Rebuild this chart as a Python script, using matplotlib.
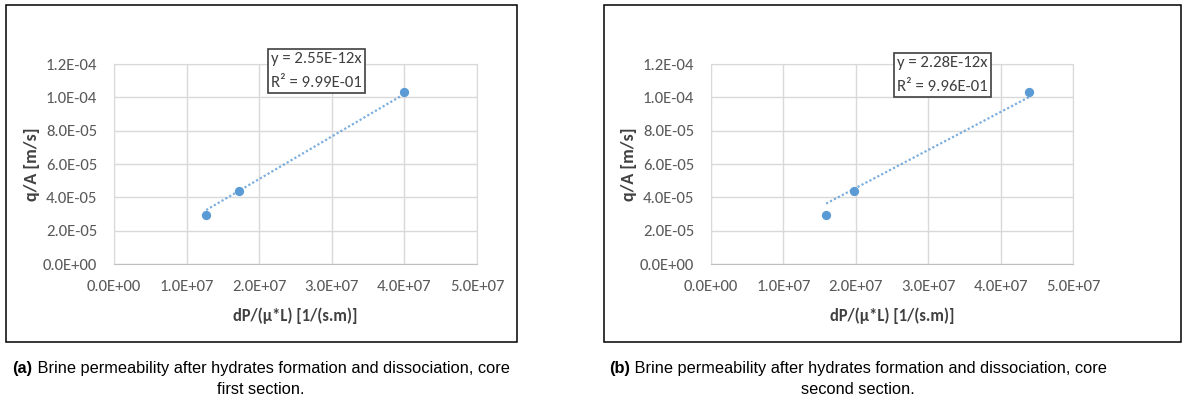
import numpy as np
import matplotlib
matplotlib.use("Agg")
import matplotlib.pyplot as plt
from matplotlib.patches import Rectangle
from matplotlib import font_manager

# data
x_a = [1.27e7, 1.72e7, 4.00e7]
y_a = [2.94e-5, 4.39e-5, 1.03e-4]
slope_a = 2.55e-12
eq_a = "y = 2.55E-12x\nR² = 9.99E-01"

x_b = [1.59e7, 1.98e7, 4.39e7]
y_b = [2.94e-5, 4.39e-5, 1.03e-4]
slope_b = 2.28e-12
eq_b = "y = 2.28E-12x\nR² = 9.96E-01"

xticks = [0, 1e7, 2e7, 3e7, 4e7, 5e7]
yticks = [0, 2e-5, 4e-5, 6e-5, 8e-5, 1e-4, 1.2e-4]

caption_a = ("(a)", " Brine permeability after hydrates formation and dissociation, core", "first section.")
caption_b = ("(b)", " Brine permeability after hydrates formation and dissociation, core", "second section.")

names = {f.name for f in font_manager.fontManager.ttflist}
tick_font = "Lato"
for cand in ["Carlito", "Liberation Sans Narrow", "DejaVu Sans Condensed", "Lato"]:
    if cand in names:
        tick_font = cand
        break

W, H = 1183, 403
fig = plt.figure(figsize=(W / 100, H / 100), dpi=100)
rnd = fig.canvas.get_renderer()

blue = "#5B9BD5"
grid_c = "#d9d9d9"
txt_c = "#595959"


def fit_size(s, width_px, **kw):
    # font size so that text s is width_px wide
    t = fig.text(0, 0, s, fontsize=10, **kw)
    w = t.get_window_extent(rnd).width
    t.remove()
    return 10 * width_px / w


tick_fs = fit_size("0.0E+00", 55, family=tick_font)
eq_fs = fit_size("y = 2.55E-12x", 91, family=tick_font)
xl_fs = fit_size("dP/(µ*L) [1/(s.m)]", 125, family=tick_font, fontweight="bold")
yl_fs = fit_size("q/A [m/s]", 74, family=tick_font, fontweight="bold")
cap_fs = fit_size("(a) Brine permeability after hydrates formation and dissociation, core",
                  497, family="Liberation Sans")


def px_axes(l, t, r, b):
    return fig.add_axes([l / W, 1 - b / H, (r - l) / W, (b - t) / H])


def panel(box, ax_px, xs, ys, slope, eq, eq_pos, caption, cap_x):
    # outer frame
    l, t, r, b = box
    fig.patches.append(Rectangle((l / W, 1 - b / H), (r - l) / W, (b - t) / H,
                                 transform=fig.transFigure, fill=False,
                                 edgecolor="black", linewidth=1.1))
    ax = px_axes(*ax_px)
    ax.set_xlim(0, 5e7)
    ax.set_ylim(0, 1.2e-4)
    ax.set_xticks(xticks)
    ax.set_yticks(yticks)
    ax.set_xticklabels(["%.1E" % v for v in xticks])
    ax.set_yticklabels(["%.1E" % v for v in yticks])
    ax.grid(True, color=grid_c, linewidth=1)
    ax.set_axisbelow(True)
    for s in ax.spines.values():
        s.set_color(grid_c)
    ax.spines["bottom"].set_color("#bfbfbf")
    ax.tick_params(length=0, labelsize=tick_fs, labelcolor=txt_c)
    ax.tick_params(axis="x", pad=11.5)
    ax.tick_params(axis="y", pad=12)
    for lab in ax.get_xticklabels() + ax.get_yticklabels():
        lab.set_fontfamily(tick_font)
    ax.set_xlabel("dP/(µ*L) [1/(s.m)]", fontsize=xl_fs, fontweight="bold",
                  family=tick_font, color="#404040", labelpad=9.5)
    ax.set_ylabel("q/A [m/s]", fontsize=yl_fs, fontweight="bold",
                  family=tick_font, color="#404040", labelpad=2)
    xt = np.array([min(xs), max(xs)])
    ax.plot(xt, slope * xt, linestyle=(0, (1, 1)), color=blue, linewidth=1.6, alpha=0.8)
    ax.scatter(xs, ys, s=32, color=blue, zorder=3)

    ex, ey = eq_pos
    fig.text(ex / W, 1 - ey / H, eq, fontsize=eq_fs, family=tick_font, color="#404040",
             ha="left", va="top", linespacing=1.9, zorder=6,
             bbox=dict(boxstyle="square,pad=0.18", facecolor="white",
                       edgecolor="#404040", linewidth=1.2))

    # caption
    t1 = fig.text(0, 0, caption[0], fontsize=cap_fs, fontweight="bold", family="Liberation Sans")
    t2 = fig.text(0, 0, caption[1], fontsize=cap_fs, family="Liberation Sans")
    w1 = t1.get_window_extent(rnd).width
    w2 = t2.get_window_extent(rnd).width
    start = cap_x - (w1 + w2) / 2
    t1.set_position((start / W, 1 - 368 / H))
    t2.set_position(((start + w1) / W, 1 - 368 / H))
    t1.set_va("center")
    t2.set_va("center")
    fig.text(cap_x / W, 1 - 389 / H, caption[2], fontsize=cap_fs, family="Liberation Sans",
             ha="center", va="center")


panel((6, 5, 517, 342), (114, 64, 477, 264), x_a, y_a, slope_a, eq_a,
      (271, 52), caption_a, 261)
panel((604, 5, 1181, 342), (711, 64, 1073, 264), x_b, y_b, slope_b, eq_b,
      (897, 56), caption_b, 858)

fig.savefig("out.png", dpi=100)
